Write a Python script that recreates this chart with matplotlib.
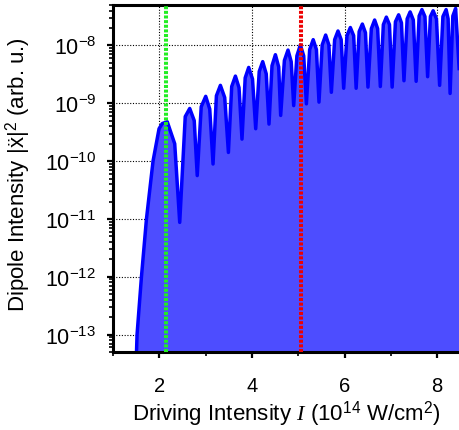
import numpy as np
import matplotlib
matplotlib.use("Agg")
import matplotlib.pyplot as plt
from matplotlib.ticker import FixedLocator, NullFormatter

plt.rcParams["font.family"] = ["Liberation Sans", "DejaVu Sans"]
plt.rcParams["mathtext.fontset"] = "custom"
plt.rcParams["mathtext.rm"] = "Liberation Sans"
plt.rcParams["mathtext.it"] = "Liberation Serif:italic"
plt.rcParams["mathtext.bf"] = "Liberation Sans:bold"

# ---------------------------------------------------------------------------
# Data (intensity in 1e14 W/cm^2, log10 of dipole)
# ---------------------------------------------------------------------------
intensity = [
    1.482, 1.521, 1.616, 1.724, 1.866, 1.996, 2.065,
    2.173, 2.334, 2.442, 2.561, 2.658, 2.755, 2.820,
    2.906, 3.003, 3.090, 3.161, 3.234, 3.320, 3.413, 3.493,
    3.564, 3.644, 3.722, 3.786, 3.855, 3.931, 4.013, 4.082,
    4.158, 4.233, 4.309, 4.369, 4.434, 4.507, 4.578, 4.621,
    4.701, 4.779, 4.848, 4.902, 4.971, 5.046, 5.118, 5.176,
    5.247, 5.323, 5.392, 5.448, 5.517, 5.592, 5.661, 5.715,
    5.786, 5.858, 5.927, 5.981, 6.052, 6.125, 6.196, 6.250,
    6.315, 6.384, 6.451, 6.505, 6.578, 6.649, 6.714, 6.772,
    6.837, 6.902, 6.969, 7.027, 7.098, 7.167, 7.228, 7.282,
    7.351, 7.415, 7.484, 7.545, 7.610, 7.670, 7.735, 7.793,
    7.853, 7.912, 7.983, 8.052, 8.123, 8.192, 8.235, 8.278,
    8.337, 8.397, 8.473,
]
dipole_log = [
    -14.00, -13.00, -12.00, -11.00, -10.00, -9.44, -9.35,
    -9.32, -9.70, -11.06, -9.23, -9.09, -9.30, -10.25,
    -9.06, -8.88, -9.10, -10.05, -8.87, -8.69, -8.90, -9.85,
    -8.71, -8.53, -8.73, -9.62, -8.56, -8.38, -8.58, -9.44,
    -8.45, -8.28, -8.49, -9.36, -8.35, -8.16, -8.37, -9.21,
    -8.26, -8.08, -8.28, -9.04, -8.18, -7.99, -8.18, -9.01,
    -8.07, -7.90, -8.07, -8.98, -7.99, -7.82, -7.99, -8.81,
    -7.90, -7.75, -7.90, -8.74, -7.83, -7.69, -7.83, -8.74,
    -7.76, -7.63, -7.78, -8.72, -7.71, -7.56, -7.71, -8.71,
    -7.64, -7.51, -7.64, -8.72, -7.59, -7.47, -7.61, -8.61,
    -7.54, -7.42, -7.56, -8.62, -7.49, -7.38, -7.50, -8.54,
    -7.50, -7.40, -7.54, -8.69, -7.50, -7.38, -7.54, -8.83,
    -7.49, -7.36, -8.40,
]
marker_green = 2.14
marker_red = 5.05

x_major = [2, 4, 6, 8]
x_minor = [1, 3, 5, 7]
y_decades = [-13, -12, -11, -10, -9, -8]

x = np.array(intensity)
y = 10.0 ** np.array(dipole_log)

# ---------------------------------------------------------------------------
# Figure
# ---------------------------------------------------------------------------
fig = plt.figure(figsize=(4.59, 4.31), dpi=100)
ax = fig.add_axes([0.246, 0.181, 0.754, 0.805])

ax.set_yscale("log")
ax.set_xlim(1, 8.47)
ax.set_ylim(5e-14, 5e-8)

ax.grid(True, which="major", color="black", linestyle=(0, (1, 1.5)), lw=0.8)
ax.set_axisbelow(True)

ax.fill_between(x, y, 1e-20, facecolor="#4d4dff", edgecolor="none", zorder=1)
ax.plot(x, y, color="#0000ff", lw=2.5, zorder=2, solid_joinstyle="round")

ax.axvline(marker_green, color="#22ee22", lw=2.9, linestyle=(0, (0.75, 0.4)), zorder=3)
ax.axvline(marker_red, color="#ee0000", lw=2.9, linestyle=(0, (0.75, 0.4)), zorder=3)

# ticks (only inside the visible range)
y_major = [10.0 ** d for d in y_decades]
y_minor = [m * 10.0 ** d for d in range(-14, -7) for m in range(2, 10)
           if 5e-14 <= m * 10.0 ** d <= 5e-8]
ax.xaxis.set_major_locator(FixedLocator(x_major))
ax.xaxis.set_minor_locator(FixedLocator(x_minor))
ax.yaxis.set_major_locator(FixedLocator(y_major))
ax.yaxis.set_minor_locator(FixedLocator(y_minor))
ax.yaxis.set_minor_formatter(NullFormatter())

ax.tick_params(which="both", direction="out", colors="black", top=False, right=False)
ax.tick_params(which="major", length=4, width=1.6)
ax.tick_params(which="minor", length=3, width=1.2)
ax.tick_params(axis="x", which="major", pad=13, labelsize=14.5)
ax.tick_params(axis="y", which="major", pad=8, labelsize=15.5)

for side in ["left", "bottom", "top"]:
    ax.spines[side].set_linewidth(2.2)
ax.spines["right"].set_visible(False)

ax.set_xlabel(r"Driving Intensity $\mathit{I}$ (10$^{14}$ W/cm$^2$)", fontsize=16, labelpad=3)
ax.set_ylabel(r"Dipole Intensity |ẍ|$^2$ (arb. u.)", fontsize=16)
ax.yaxis.set_label_coords(-0.231, 0.515)

fig.savefig("out.png", dpi=100)
